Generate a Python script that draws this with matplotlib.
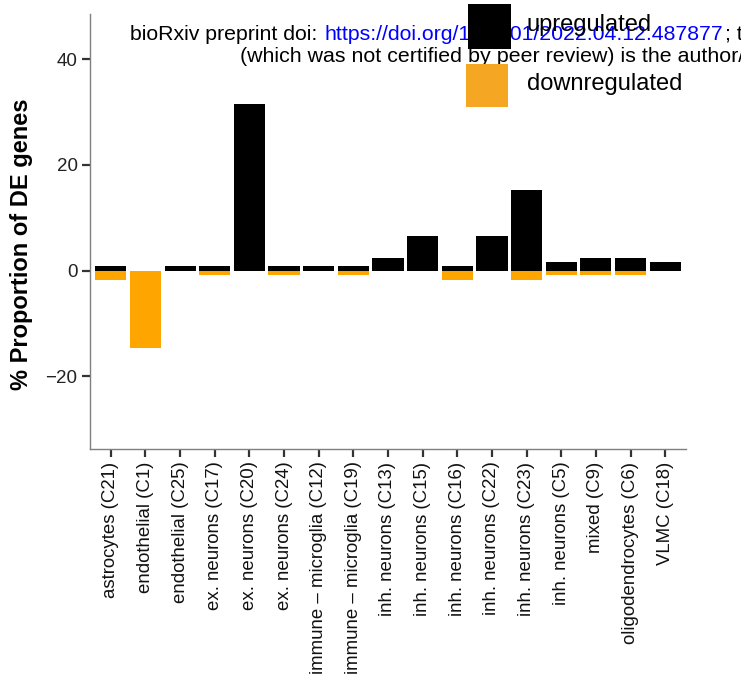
import matplotlib
matplotlib.use("Agg")
import matplotlib.pyplot as plt
from matplotlib.patches import Rectangle
import numpy as np

plt.rcParams['font.family'] = ['Liberation Sans', 'DejaVu Sans']

categories = ["astrocytes (C21)", "endothelial (C1)", "endothelial (C25)",
              "ex. neurons (C17)", "ex. neurons (C20)", "ex. neurons (C24)",
              "immune \u2013 microglia (C12)", "immune \u2013 microglia (C19)",
              "inh. neurons (C13)", "inh. neurons (C15)", "inh. neurons (C16)",
              "inh. neurons (C22)", "inh. neurons (C23)", "inh. neurons (C5)",
              "mixed (C9)", "oligodendrocytes (C6)", "VLMC (C18)"]
upregulated = [0.9, 0.0, 0.9, 0.9, 31.6, 0.9, 0.9, 0.9, 2.4, 6.6, 0.9, 6.6, 15.3, 1.6, 2.4, 2.4, 1.6]
downregulated = [-1.8, -14.6, 0.0, -0.8, 0.0, -0.8, 0.0, -0.8, 0.0, 0.0, -1.8, 0.0, -1.8, -0.8, -0.8, -0.8, 0.0]
yticks = [-20, 0, 20, 40]

W, H = 741, 686
fig = plt.figure(figsize=(W / 100, H / 100), dpi=100)
ax = fig.add_axes([90 / W, (H - 449) / H, (686 - 90) / W, (449 - 14) / H])

x = np.arange(len(categories))
ax.bar(x, upregulated, width=0.9, color='black', zorder=2)
ax.bar(x, downregulated, width=0.9, color='#FFA500', zorder=2)

ax.set_xlim(-0.6, len(categories) - 0.4)
ax.set_ylim(-33.8, 48.6)
ax.set_yticks(yticks)
ax.set_yticklabels([str(t).replace('-', '\u2212') for t in yticks], fontsize=13.5, color='#222222')
ax.set_xticks(x)
ax.set_xticklabels(categories, rotation=90, fontsize=13.4, color='#111111')
for s in ['top', 'right']:
    ax.spines[s].set_visible(False)
for s in ['left', 'bottom']:
    ax.spines[s].set_color('#7f7f7f')
    ax.spines[s].set_linewidth(1.0)
ax.tick_params(axis='both', length=6, width=1.6, color='#333333', pad=3)
ax.set_ylabel("% Proportion of DE genes", fontsize=17, fontweight='bold')
ax.yaxis.set_label_coords(-57 / 596, 0.47)

# watermark text (clipped at figure edge)
y1 = 1 - 35 / H
fig.text(130 / W, y1, "bioRxiv preprint doi: ", fontsize=15.3, va='center', ha='left', color='black', zorder=1)
fig.text(325 / W, y1, "https://doi.org/10.1101/2022.04.12.487877", fontsize=15.3, va='center', ha='left', color='#0000FF', zorder=1)
fig.text(725 / W, y1, "; this version posted April 14, 2022.", fontsize=15.3, va='center', ha='left', color='black', zorder=1)
fig.text(240 / W, 1 - 57 / H, "(which was not certified by peer review) is the author/funder, who has granted bioRxiv a license",
         fontsize=15.4, va='center', ha='left', color='black', zorder=1)

# legend
fig.patches.append(Rectangle((468 / W, 1 - 49 / H), 43 / W, 45 / H, transform=fig.transFigure,
                             facecolor='black', edgecolor='none', zorder=5))
fig.patches.append(Rectangle((466 / W, 1 - 107 / H), 42 / W, 43 / H, transform=fig.transFigure,
                             facecolor='#F5A623', edgecolor='none', zorder=5))
fig.text(527 / W, 1 - 25 / H, "upregulated", fontsize=17, va='center', ha='left', zorder=6)
fig.text(527 / W, 1 - 84 / H, "downregulated", fontsize=17, va='center', ha='left', zorder=6)

fig.savefig("out.png", dpi=100)
